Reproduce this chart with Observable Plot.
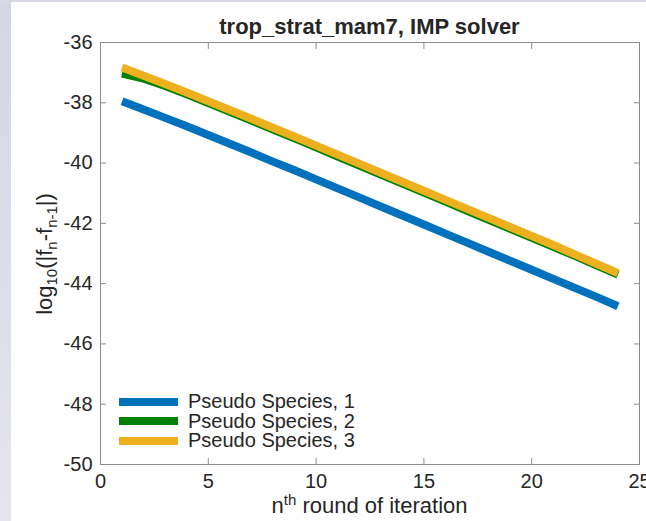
<!DOCTYPE html>
<html><head><meta charset="utf-8">
<script src="https://cdn.jsdelivr.net/npm/d3@7"></script>
<script src="https://cdn.jsdelivr.net/npm/@observablehq/plot@0.6"></script>
<style>
body{margin:0;background:#fff;}
#wrap{position:relative;width:646px;height:521px;overflow:hidden;font-family:"Liberation Sans",Arial,sans-serif;color:#262626;background:#fff;}
#wrap svg{position:absolute;left:0;top:0;}
.strip-left{position:absolute;left:0;top:0;width:11px;height:521px;background:linear-gradient(#d4d6e4,#e4e5ee);}
.strip-top{position:absolute;left:0;top:0;width:646px;height:2px;background:#d8d9e5;}
.title{position:absolute;left:100px;width:539px;top:14px;text-align:center;font-weight:bold;font-size:22px;line-height:26px;}
.xlabel{position:absolute;left:100px;width:539px;top:495px;text-align:center;font-size:22px;line-height:22px;}
.ylabel{position:absolute;left:45px;top:254px;font-size:22px;line-height:24px;white-space:nowrap;transform:translate(-50%,-50%) rotate(-90deg);}
sub,sup{font-size:15px;line-height:0;}
.legend{position:absolute;left:119px;top:392px;font-size:20px;}
.legend .row{display:flex;align-items:center;height:19.5px;}
.legend .row span{line-height:19px;}
.legend .sw{width:59px;height:8px;margin-right:10px;}
</style></head><body><div id="wrap"></div>
<script>
const iterations = [1,2,3,4,5,6,7,8,9,10,11,12,13,14,15,16,17,18,19,20,21,22,23,24];
const species1 = [-37.95,-38.22,-38.50,-38.78,-39.07,-39.36,-39.65,-39.95,-40.24,-40.54,-40.84,-41.14,-41.44,-41.74,-42.04,-42.34,-42.64,-42.94,-43.24,-43.54,-43.84,-44.14,-44.44,-44.75];
const species2 = [-37.03,-37.20,-37.44,-37.72,-38.01,-38.30,-38.59,-38.89,-39.18,-39.48,-39.78,-40.08,-40.38,-40.68,-40.98,-41.28,-41.58,-41.88,-42.18,-42.48,-42.78,-43.08,-43.39,-43.70];
const species3 = [-36.83,-37.10,-37.38,-37.66,-37.95,-38.24,-38.53,-38.83,-39.12,-39.42,-39.72,-40.02,-40.32,-40.62,-40.92,-41.22,-41.52,-41.82,-42.12,-42.42,-42.72,-43.03,-43.34,-43.65];
const seriesNames = ["Pseudo Species, 1","Pseudo Species, 2","Pseudo Species, 3"];
const seriesColors = ["#0072BD","#008000","#EDB120"];
const xTicks = [0,5,10,15,20,25];
const yTicks = [-36,-38,-40,-42,-44,-46,-48,-50];
const titleText = "trop_strat_mam7, IMP solver";

const allSeries = [species1, species2, species3];
const data = [];
allSeries.forEach((vals, s) => vals.forEach((v, i) => data.push({n: iterations[i], v, s: seriesNames[s]})));

const axisColor = "#262626";
const plot = Plot.plot({
  width: 646, height: 521,
  marginLeft: 100, marginRight: 7, marginTop: 42, marginBottom: 57,
  style: {fontFamily: '"Liberation Sans", Arial, sans-serif', fontSize: "20px", color: axisColor, background: "transparent"},
  x: {domain: [0, 25], ticks: xTicks, label: null},
  y: {domain: [-50, -36], ticks: yTicks, label: null},
  color: {domain: seriesNames, range: seriesColors},
  marks: [
    Plot.frame({stroke: "#8c8c8c", strokeWidth: 1}),
    Plot.axisX({anchor: "bottom", ticks: xTicks, tickSize: -6, tickPadding: 15, label: null, stroke: "#8c8c8c", fill: axisColor, fontSize: 20}),
    Plot.axisX({anchor: "top", ticks: xTicks, tickSize: -6, tickFormat: () => "", label: null, stroke: "#8c8c8c"}),
    Plot.axisY({anchor: "left", ticks: yTicks, tickSize: -6, tickPadding: 14, label: null, stroke: "#8c8c8c", fill: axisColor, fontSize: 20, tickFormat: d => String(d).replace("−","-")}),
    Plot.axisY({anchor: "right", ticks: yTicks, tickSize: -6, tickFormat: () => "", label: null, stroke: "#8c8c8c"}),
    Plot.line(data, {x: "n", y: "v", z: "s", stroke: "s", strokeWidth: 8, strokeLinecap: "butt", strokeLinejoin: "round"})
  ]
});
const wrap = document.getElementById("wrap");
wrap.innerHTML = '<div class="strip-left"></div><div class="strip-top"></div>';
wrap.appendChild(plot);
const t = document.createElement("div"); t.className = "title"; t.textContent = titleText; wrap.appendChild(t);
const xl = document.createElement("div"); xl.className = "xlabel"; xl.innerHTML = "n<sup>th</sup> round of iteration"; wrap.appendChild(xl);
const yl = document.createElement("div"); yl.className = "ylabel"; yl.innerHTML = "log<sub>10</sub>(|f<sub>n</sub>-f<sub>n-1</sub>|)"; wrap.appendChild(yl);
const lg = document.createElement("div"); lg.className = "legend";
seriesNames.forEach((name, i) => {
  const r = document.createElement("div"); r.className = "row";
  r.innerHTML = `<div class="sw" style="background:${seriesColors[i]}"></div><span>${name}</span>`;
  lg.appendChild(r);
});
wrap.appendChild(lg);
</script></body></html>
